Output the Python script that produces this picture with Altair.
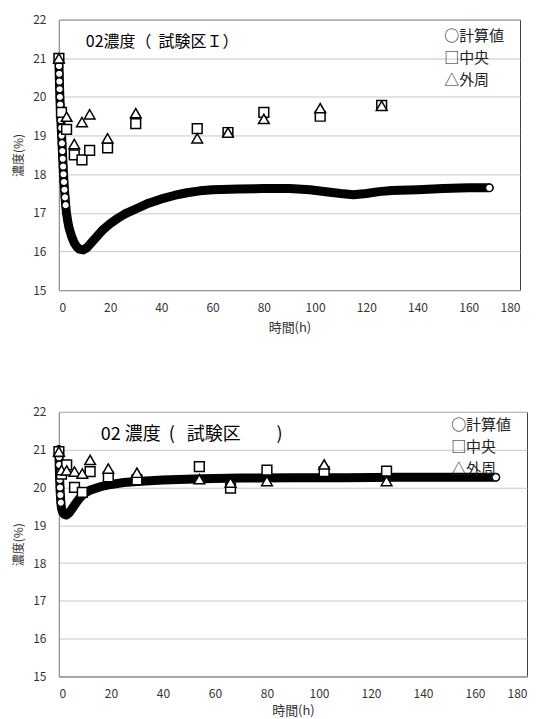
import altair as alt
import pandas as pd

FONT = "Noto Sans CJK JP"

# ---------- Panel 1 : 試験区I ----------
calc1_t = [0, 0.05, 0.12, 0.2, 0.28, 0.38, 0.5, 0.62, 0.76, 0.9, 1.05, 1.2, 1.35, 1.5, 1.65,
           1.8, 1.98, 2.18, 2.4, 2.65, 2.95, 3.4, 4, 5, 6, 7, 8, 9.5, 11, 13, 15, 17, 20, 23,
           26, 30, 35, 40, 45, 50, 55, 60, 70, 80, 90, 98, 105, 110, 115, 120, 125, 130,
           140, 150, 160, 168]
calc1_c = [21.0, 20.8, 20.6, 20.4, 20.2, 20.0, 19.8, 19.6, 19.4, 19.2, 19.0, 18.8, 18.6, 18.4,
           18.2, 18.0, 17.8, 17.6, 17.4, 17.2, 17.0, 16.8, 16.6, 16.38, 16.22, 16.12, 16.06,
           16.04, 16.1, 16.25, 16.4, 16.55, 16.72, 16.86, 16.98, 17.1, 17.25, 17.36, 17.45,
           17.52, 17.57, 17.6, 17.62, 17.63, 17.63, 17.6, 17.54, 17.5, 17.47, 17.5, 17.55,
           17.58, 17.6, 17.63, 17.65, 17.65]
mid1_t = [0, 1, 3, 6, 9, 12, 19, 30, 54, 66, 80, 102, 126]
mid1_c = [21.0, 19.6, 19.16, 18.5, 18.37, 18.62, 18.68, 19.31, 19.18, 19.08, 19.6, 19.5, 19.78]
out1_t = [0, 3, 6, 9, 12, 19, 30, 54, 66, 80, 102, 126]
out1_c = [21.0, 19.49, 18.78, 19.35, 19.55, 18.93, 19.58, 18.93, 19.08, 19.43, 19.71, 19.77]

# ---------- Panel 2 ----------
calc2_t = [0, 0.05, 0.12, 0.2, 0.3, 0.42, 0.56, 0.75, 1.0, 1.4, 2.0, 2.8, 4, 5.5, 7, 8.5, 10,
           12, 16, 20, 25, 30, 40, 55, 70, 90, 110, 130, 150, 168]
calc2_c = [21.0, 20.8, 20.6, 20.4, 20.2, 20.0, 19.8, 19.6, 19.45, 19.35, 19.29, 19.27, 19.33,
           19.48, 19.63, 19.76, 19.85, 19.93, 20.02, 20.08, 20.13, 20.16, 20.2, 20.23, 20.25,
           20.26, 20.26, 20.27, 20.27, 20.27]
mid2_t = [0, 1, 3, 6, 9, 12, 19, 30, 54, 66, 80, 102, 126]
mid2_c = [20.95, 20.35, 20.6, 20.0, 19.87, 20.42, 20.28, 20.2, 20.55, 19.98, 20.46, 20.42, 20.43]
out2_t = [0, 1, 3, 6, 9, 12, 19, 30, 54, 66, 80, 102, 126]
out2_c = [20.95, 20.46, 20.45, 20.42, 20.37, 20.73, 20.5, 20.39, 20.22, 20.13, 20.17, 20.61, 20.17]

legend_labels = ["○計算値", "□中央", "△外周"]
x_ticks = [0, 20, 40, 60, 80, 100, 120, 140, 160, 180]
y_ticks = [15, 16, 17, 18, 19, 20, 21, 22]

NB = "\u00a0"


def panel(ct, cc, mt, mc, ot, oc, cut, width, height, title, title_style, leg_pos, xpad):
    xs = alt.Scale(domain=[0, 180], nice=False)
    ys = alt.Scale(domain=[15, 22], nice=False)
    xax = alt.Axis(values=x_ticks, title="時間(h)", grid=False, tickSize=0, labelPadding=12,
                   labelOverlap=False, domainColor="#999999", labelColor="#333333",
                   labelFont=FONT, labelFontSize=12, titleFont=FONT, titleFontSize=13,
                   titleFontWeight="normal", titleColor="#333333", titlePadding=xpad)
    yax = alt.Axis(values=y_ticks, title="濃度(%)", grid=True, gridColor="#c8c8c8",
                   tickSize=0, labelPadding=13, labelOverlap=False, domainColor="#999999",
                   labelColor="#333333", labelFont=FONT, labelFontSize=12, titleFont=FONT,
                   titleFontSize=12, titleFontWeight="normal", titleColor="#333333",
                   titlePadding=7)
    X = alt.X("t:Q", scale=xs, axis=xax)
    Y = alt.Y("c:Q", scale=ys, axis=yax)
    calc = pd.DataFrame({"t": ct, "c": cc})
    mid = pd.DataFrame({"t": mt, "c": mc})
    out = pd.DataFrame({"t": ot, "c": oc})
    line = alt.Chart(calc).mark_line(color="black", strokeWidth=9, strokeCap="round",
                                     strokeJoin="round").encode(x=X, y=Y)
    circ = alt.Chart(calc).transform_filter(
        f"datum.t <= {cut} || datum.t >= 168").mark_point(
        shape="circle", filled=True, fill="white", stroke="black", strokeWidth=1.3,
        size=55, opacity=1).encode(x=X, y=Y)
    sq = alt.Chart(mid).mark_point(shape="square", filled=True, fill="white", stroke="black",
                                   strokeWidth=1.5, size=95, opacity=1).encode(x=X, y=Y)
    tri = alt.Chart(out).mark_point(shape="triangle-up", filled=True, fill="white",
                                    stroke="black", strokeWidth=1.5, size=115,
                                    opacity=1).encode(x=X, y=Y)
    ttl = alt.Chart(pd.DataFrame({"label": [title]})).mark_text(
        align="left", baseline="middle", font=FONT, color="black", **title_style).encode(
        text="label:N")
    legs = []
    lx, ly, dy, fs = leg_pos
    for i, lab in enumerate(legend_labels):
        legs.append(alt.Chart(pd.DataFrame({"label": [lab]})).mark_text(
            align="left", baseline="middle", font=FONT, fontSize=fs, color="#222222").encode(
            text="label:N", x=alt.value(lx), y=alt.value(ly + i * dy)))
    return alt.layer(line, circ, sq, tri, ttl, *legs).properties(width=width, height=height)


top = panel(calc1_t, calc1_c, mid1_t, mid1_c, out1_t, out1_c, 2.7, 462, 271,
            "02濃度（" + NB + NB + "試験区Ｉ）",
            {"fontSize": 16, "x": 27, "y": 22}, (386, 16, 22, 15), 8)
bottom = panel(calc2_t, calc2_c, mid2_t, mid2_c, out2_t, out2_c, 0.8, 469, 265,
               "02" + NB + "濃度" + NB + NB + "(" + NB + NB + NB + "試験区\u3000\u3000)",
               {"fontSize": 18, "x": 42, "y": 23}, (393, 13, 22, 15), 5)

chart = alt.vconcat(top, bottom, spacing=70).properties(
    padding={"left": 4, "top": 4, "right": 0, "bottom": 0}
).configure_view(stroke="#404040", strokeWidth=1)

chart.save("out.html", embed_options={"renderer": "svg", "actions": False})
